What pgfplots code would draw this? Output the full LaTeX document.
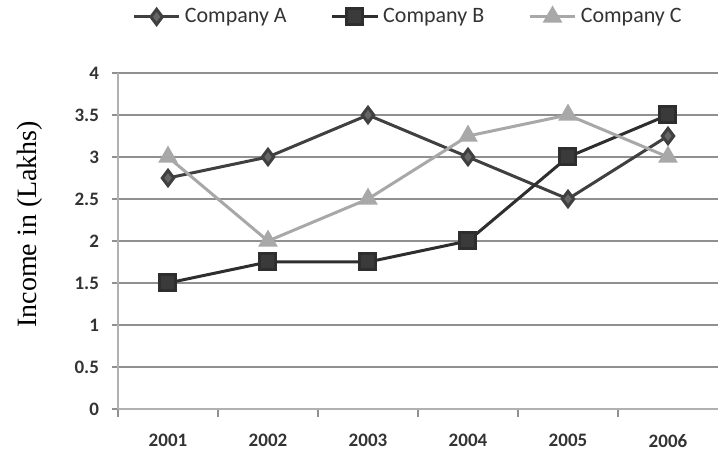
\documentclass[border=0pt]{standalone}
\usepackage{pgfplots}
\pgfplotsset{compat=1.18}
\usepackage{fontspec}
\setmainfont{Carlito}
\newfontfamily\serif{Liberation Serif}
\definecolor{cA}{HTML}{404040}
\definecolor{cB}{HTML}{2E2E2E}
\definecolor{cC}{HTML}{A8A8A8}
\definecolor{gridc}{HTML}{909090}
\begin{document}
\begin{tikzpicture}
\begin{axis}[
  scale only axis,
  width=300pt, height=168pt,
  xmin=0.5, xmax=6.5, ymin=0, ymax=4,
  xtick={1,2,3,4,5,6},
  xticklabels={2001,2002,2003,2004,2005,2006},
  minor xtick={0.5,1.5,2.5,3.5,4.5,5.5},
  ytick={0,0.5,1,1.5,2,2.5,3,3.5,4},
  yticklabels={0,0.5,1,1.5,2,2.5,3,3.5,4},
  axis x line*=bottom, axis y line*=left,
  axis line style={color=gridc!70, line width=0.8pt},
  tick align=outside,
  major x tick style={draw=none},
  minor x tick style={color=gridc, line width=0.8pt},
  minor tick length=4pt,
  major tick length=3pt,
  y tick style={color=gridc, line width=0.8pt},
  ymajorgrids,
  grid style={color=gridc, line width=0.9pt},
  tick label style={font=\fontsize{9.5}{11}\selectfont\bfseries, text=black!80},
  xticklabel style={yshift=-6pt},
  yticklabel style={xshift=-3pt},
  ylabel={Income in (Lakhs)},
  ylabel style={font=\serif\fontsize{14}{16}\selectfont, at={(axis description cs:-0.147,0.55)}, anchor=center},
  legend columns=3,
  legend style={draw=none, fill=none, at={(0.485,1.167)}, anchor=center,
    font=\fontsize{11}{13}\selectfont, text=black!80,
    /tikz/every even column/.append style={column sep=20pt}},
  legend image code/.code={
    \draw[#1, mark repeat=2, mark phase=2] plot coordinates {(0cm,0cm) (0.4cm,0cm) (0.8cm,0cm)};},
  clip=false,
]
\addplot[color=cA, line width=1.5pt, mark=diamond*, mark size=3.8pt, mark options={fill=cA!80}] coordinates {(1,2.75)(2,3.0)(3,3.5)(4,3.0)(5,2.5)(6,3.25)};
\addlegendentry{Company A}
\addplot[color=cB, line width=1.5pt, mark=square*, mark size=4pt, mark options={fill=cB!85!gray}] coordinates {(1,1.5)(2,1.75)(3,1.75)(4,2.0)(5,3.0)(6,3.5)};
\addlegendentry{Company B}
\addplot[color=cC, line width=1.5pt, mark=triangle*, mark size=4.2pt, mark options={fill=cC}] coordinates {(1,3.0)(2,2.0)(3,2.5)(4,3.25)(5,3.5)(6,3.0)};
\addlegendentry{Company C}
\coordinate (O) at (rel axis cs:0,0);
\coordinate (T) at (rel axis cs:1,1);
\end{axis}
\pgfresetboundingbox
\path[use as bounding box] ([xshift=-59pt,yshift=-26pt]O) rectangle ([xshift=1pt,yshift=36.5pt]T);
\end{tikzpicture}
\end{document}
